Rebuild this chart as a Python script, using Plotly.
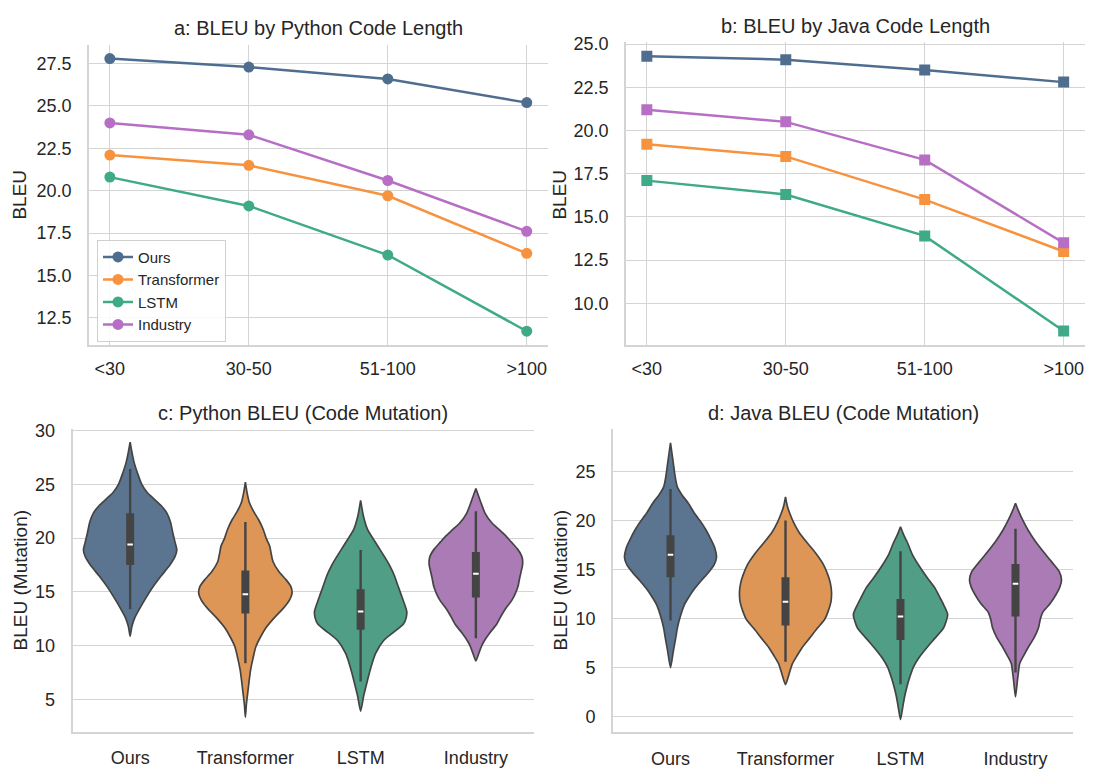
import plotly.graph_objects as go

# ---------------- data ----------------
length_bins = ["<30", "30-50", "51-100", ">100"]
models = ["Ours", "Transformer", "LSTM", "Industry"]

py_ours = [27.8, 27.3, 26.6, 25.2]
py_transformer = [22.1, 21.5, 19.7, 16.3]
py_lstm = [20.8, 19.1, 16.2, 11.7]
py_industry = [24.0, 23.3, 20.6, 17.6]

java_ours = [24.3, 24.1, 23.5, 22.8]
java_transformer = [19.2, 18.5, 16.0, 13.0]
java_lstm = [17.1, 16.3, 13.9, 8.4]
java_industry = [21.2, 20.5, 18.3, 13.5]

# violin outlines (BLEU level, half width of the density outline)
pyv_ours_y = [10.9, 11.8, 12.6, 13.5, 14.5, 15.5, 16.5, 17.5, 18.3, 18.9, 19.6, 20.5, 21.5, 22.3, 23.0, 23.6, 24.2, 25.0, 26.0, 27.0, 28.0, 28.9]
pyv_ours_w = [0, 0.015, 0.04, 0.085, 0.14, 0.2, 0.27, 0.345, 0.39, 0.405, 0.39, 0.37, 0.35, 0.32, 0.27, 0.21, 0.15, 0.1, 0.065, 0.035, 0.015, 0]
pyv_trans_y = [3.4, 4.5, 5.6, 6.7, 7.75, 8.8, 9.9, 10.8, 11.7, 12.6, 13.5, 14.3, 14.9, 15.5, 16.1, 16.9, 17.8, 18.5, 19.3, 20.0, 20.8, 21.7, 22.5, 23.25, 24.2, 25.2]
pyv_trans_w = [0, 0.008, 0.02, 0.032, 0.045, 0.065, 0.09, 0.13, 0.18, 0.25, 0.33, 0.385, 0.405, 0.395, 0.356, 0.29, 0.24, 0.225, 0.21, 0.18, 0.155, 0.115, 0.07, 0.036, 0.015, 0]
pyv_lstm_y = [3.95, 5.3, 6.4, 7.45, 8.4, 9.3, 10.5, 11.3, 12.0, 12.6, 13.2, 13.9, 14.8, 15.7, 16.6, 17.5, 18.4, 19.4, 20.8, 22.0, 23.5]
pyv_lstm_w = [0, 0.025, 0.05, 0.075, 0.1, 0.13, 0.2, 0.29, 0.37, 0.395, 0.40, 0.38, 0.35, 0.32, 0.29, 0.25, 0.2, 0.14, 0.06, 0.025, 0]
pyv_ind_y = [8.6, 9.3, 10.0, 10.5, 11.2, 12.0, 12.8, 13.5, 14.2, 14.8, 15.5, 16.3, 17.0, 17.5, 18.0, 18.4, 19.0, 19.6, 20.2, 20.8, 21.4, 22.3, 23.25, 24.6]
pyv_ind_w = [0, 0.025, 0.05, 0.075, 0.12, 0.18, 0.22, 0.26, 0.31, 0.34, 0.365, 0.38, 0.395, 0.405, 0.405, 0.395, 0.36, 0.31, 0.26, 0.2, 0.14, 0.08, 0.045, 0]

jv_ours_y = [5.0, 6.7, 8.0, 9.05, 10.2, 11.4, 12.2, 13.05, 13.9, 14.7, 15.5, 16.25, 17.2, 18.1, 19.0, 19.75, 20.7, 21.75, 22.6, 23.4, 24.5, 25.8, 27.9]
jv_ours_w = [0, 0.025, 0.045, 0.06, 0.085, 0.12, 0.16, 0.21, 0.27, 0.33, 0.38, 0.40, 0.385, 0.35, 0.31, 0.27, 0.21, 0.155, 0.1, 0.06, 0.04, 0.025, 0]
jv_trans_y = [3.25, 4.3, 5.4, 6.2, 7.05, 8.0, 9.05, 9.9, 10.7, 11.7, 12.7, 13.6, 14.4, 15.5, 16.7, 17.7, 18.75, 19.8, 20.75, 21.5, 22.4]
jv_trans_w = [0, 0.03, 0.06, 0.1, 0.145, 0.21, 0.28, 0.34, 0.37, 0.395, 0.40, 0.39, 0.37, 0.33, 0.26, 0.19, 0.12, 0.07, 0.036, 0.015, 0]
jv_lstm_y = [-0.3, 1.0, 2.0, 3.0, 4.0, 5.0, 6.0, 7.05, 8.0, 9.05, 10.4, 11.4, 12.2, 13.1, 14.2, 15.4, 16.6, 17.75, 18.6, 19.35]
jv_lstm_w = [0, 0.02, 0.035, 0.055, 0.08, 0.11, 0.16, 0.23, 0.3, 0.375, 0.41, 0.375, 0.34, 0.30, 0.23, 0.16, 0.1, 0.06, 0.025, 0]
jv_ind_y = [2.0, 3.5, 4.5, 5.4, 6.2, 7.05, 8.0, 9.05, 9.9, 10.7, 11.5, 12.4, 13.2, 13.9, 14.8, 15.7, 16.7, 17.75, 19.0, 20.1, 21.0, 21.75]
jv_ind_w = [0, 0.015, 0.025, 0.036, 0.07, 0.11, 0.16, 0.2, 0.215, 0.24, 0.3, 0.35, 0.385, 0.40, 0.38, 0.32, 0.25, 0.18, 0.11, 0.06, 0.025, 0]

# inner box statistics (Ours, Transformer, LSTM, Industry)
py_q1 = [17.5, 13.0, 11.5, 14.5]
py_median = [19.4, 14.8, 13.2, 16.7]
py_q3 = [22.3, 17.0, 15.25, 18.7]
py_whisk_lo = [13.4, 8.4, 6.7, 10.7]
py_whisk_hi = [26.4, 21.5, 18.9, 22.5]

java_q1 = [14.2, 9.3, 7.8, 10.2]
java_median = [16.5, 11.7, 10.2, 13.55]
java_q3 = [18.5, 14.2, 12.0, 15.55]
java_whisk_lo = [9.8, 5.6, 3.3, 4.5]
java_whisk_hi = [23.2, 20.0, 16.85, 19.15]

# ---------------- styling ----------------
line_colors = ["#4f6e8f", "#f7933f", "#3faa88", "#b66fc5"]
violin_colors = ["#5b7590", "#de9657", "#4f9e85", "#aa7bb5"]
FONT = "Liberation Sans, Arial, Helvetica, sans-serif"
GRID = "#d4d4d4"
DARK = "#444444"
TXT = "#262626"

W, H = 1096, 769
def px_x(a, b):
    return [a / W, b / W]
def px_y(top, bottom):
    return [(H - bottom) / H, (H - top) / H]

fig = go.Figure()

# ---------------- panel a / b: line charts ----------------
py_series = [py_ours, py_transformer, py_lstm, py_industry]
java_series = [java_ours, java_transformer, java_lstm, java_industry]
for i, name in enumerate(models):
    fig.add_trace(go.Scatter(
        x=length_bins, y=py_series[i], mode="lines+markers", name=name,
        line=dict(color=line_colors[i], width=2.5),
        marker=dict(symbol="circle", size=11, color=line_colors[i]),
        xaxis="x", yaxis="y", legendgroup=name, showlegend=True))
for i, name in enumerate(models):
    fig.add_trace(go.Scatter(
        x=length_bins, y=java_series[i], mode="lines+markers", name=name,
        line=dict(color=line_colors[i], width=2.5),
        marker=dict(symbol="square", size=11, color=line_colors[i]),
        xaxis="x2", yaxis="y2", legendgroup=name, showlegend=False))

# ---------------- panel c / d: violins ----------------
def add_violins(profiles, q1, med, q3, wlo, whi, xa, ya):
    for i, (ys, ws) in enumerate(profiles):
        xs = [i + w for w in ws] + [i - w for w in reversed(ws)]
        yy = list(ys) + list(reversed(ys))
        fig.add_trace(go.Scatter(
            x=xs, y=yy, mode="lines", fill="toself",
            fillcolor=violin_colors[i],
            line=dict(color=DARK, width=1.7, shape="spline", smoothing=0.6),
            xaxis=xa, yaxis=ya, showlegend=False, hoverinfo="skip"))
        fig.add_trace(go.Scatter(
            x=[i, i], y=[wlo[i], whi[i]], mode="lines",
            line=dict(color=DARK, width=2.4),
            xaxis=xa, yaxis=ya, showlegend=False, hoverinfo="skip"))
        fig.add_trace(go.Scatter(
            x=[i, i], y=[q1[i], q3[i]], mode="lines",
            line=dict(color=DARK, width=8),
            xaxis=xa, yaxis=ya, showlegend=False, hoverinfo="skip"))
        fig.add_trace(go.Scatter(
            x=[i - 0.024, i + 0.024], y=[med[i], med[i]], mode="lines",
            line=dict(color="white", width=2),
            xaxis=xa, yaxis=ya, showlegend=False, hoverinfo="skip"))

add_violins([(pyv_ours_y, pyv_ours_w), (pyv_trans_y, pyv_trans_w),
             (pyv_lstm_y, pyv_lstm_w), (pyv_ind_y, pyv_ind_w)],
            py_q1, py_median, py_q3, py_whisk_lo, py_whisk_hi, "x3", "y3")
add_violins([(jv_ours_y, jv_ours_w), (jv_trans_y, jv_trans_w),
             (jv_lstm_y, jv_lstm_w), (jv_ind_y, jv_ind_w)],
            java_q1, java_median, java_q3, java_whisk_lo, java_whisk_hi, "x4", "y4")

# ---------------- axes ----------------
tickfont = dict(family=FONT, size=18, color=TXT)
common = dict(showline=True, linecolor=GRID, linewidth=1.6, gridcolor=GRID,
              gridwidth=1.3, zeroline=False, ticks="", tickfont=tickfont)

fig.update_layout(
    xaxis=dict(domain=px_x(89, 547.6), anchor="y", type="category",
               categoryorder="array", categoryarray=length_bins,
               range=[-0.15, 3.15], showgrid=True, ticklabelstandoff=7, **common),
    yaxis=dict(domain=px_y(36.7, 342), anchor="x", range=[10.9, 28.6],
               tickvals=[12.5, 15, 17.5, 20, 22.5, 25, 27.5], tickformat=".1f",
               showgrid=True, ticklabelstandoff=12, **common),
    xaxis2=dict(domain=px_x(626, 1084.5), anchor="y2", type="category",
                categoryorder="array", categoryarray=length_bins,
                range=[-0.15, 3.15], showgrid=True, ticklabelstandoff=7, **common),
    yaxis2=dict(domain=px_y(34, 342), anchor="x2", range=[7.6, 25.1],
                tickvals=[10, 12.5, 15, 17.5, 20, 22.5, 25], tickformat=".1f",
                showgrid=True, ticklabelstandoff=12, **common),
    xaxis3=dict(domain=px_x(72.5, 533.5), anchor="y3", range=[-0.5, 3.5],
                tickvals=[0, 1, 2, 3], ticktext=models, showgrid=False,
                ticklabelstandoff=9, **common),
    yaxis3=dict(domain=px_y(428, 736), anchor="x3", range=[2.05, 30.1],
                tickvals=[5, 10, 15, 20, 25, 30], showgrid=True,
                ticklabelstandoff=12, **common),
    xaxis4=dict(domain=px_x(613, 1073), anchor="y4", range=[-0.5, 3.5],
                tickvals=[0, 1, 2, 3], ticktext=models, showgrid=False,
                ticklabelstandoff=9, **common),
    yaxis4=dict(domain=px_y(428, 736.7), anchor="x4", range=[-1.6, 29.3],
                tickvals=[0, 5, 10, 15, 20, 25], showgrid=True,
                ticklabelstandoff=12, **common),
)

# ---------------- titles ----------------
titles = [
    ("a: BLEU by Python Code Length", (89 + 547.6) / 2, 19),
    ("b: BLEU by Java Code Length", (626 + 1084.5) / 2, 17),
    ("c: Python BLEU (Code Mutation)", (72.5 + 533.5) / 2, 412),
    ("d: Java BLEU (Code Mutation)", (613 + 1073) / 2, 412),
]
for text, cx, cy in titles:
    fig.add_annotation(text=text, x=cx / W, y=(H - cy) / H, xref="paper", yref="paper",
                       showarrow=False, xanchor="center", yanchor="middle",
                       font=dict(family=FONT, size=20, color=TXT))

ylabels = [("BLEU", 20, 189), ("BLEU", 560, 189),
           ("BLEU (Mutation)", 20, 582), ("BLEU (Mutation)", 560, 582)]
for text, cx, cy in ylabels:
    fig.add_annotation(text=text, x=cx / W, y=(H - cy) / H, xref="paper", yref="paper",
                       showarrow=False, xanchor="center", yanchor="middle", textangle=-90,
                       font=dict(family=FONT, size=19, color=TXT))

fig.update_layout(
    width=W, height=H, margin=dict(l=0, r=0, t=0, b=0),
    paper_bgcolor="white", plot_bgcolor="white",
    font=dict(family=FONT, color=TXT),
    showlegend=True,
    legend=dict(x=97 / W, y=(H - 235) / H, xanchor="left", yanchor="top",
                bgcolor="rgba(255,255,255,0.85)", bordercolor="#d0d0d0", borderwidth=1,
                font=dict(family=FONT, size=15, color=TXT),
                tracegroupgap=0, itemwidth=30),
)

fig.write_html(
    "out.html",
    config={"displayModeBar": False},
    post_script="document.body.style.margin='0';document.body.style.overflow='hidden';",
)
